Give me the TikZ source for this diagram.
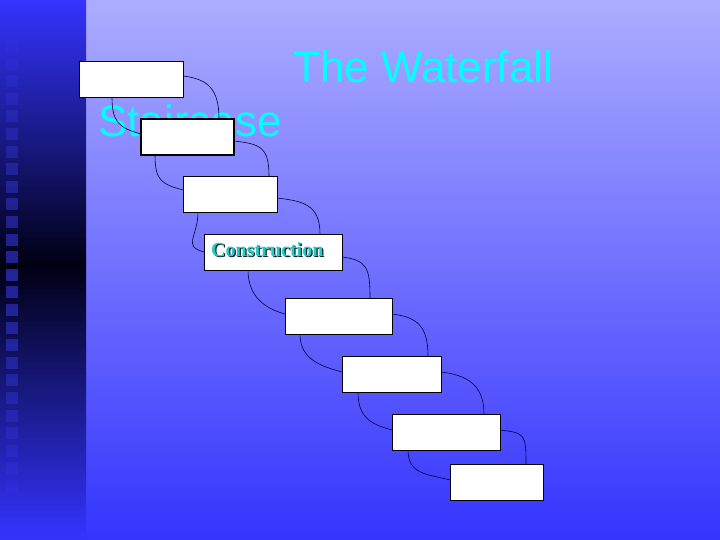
\documentclass[tikz,border=0pt]{standalone}
\usepackage{fontspec}
\setmainfont{Liberation Sans}
\newfontfamily\serifb{Liberation Serif}
\usetikzlibrary{calc}
\definecolor{titlecyan}{RGB}{0,255,255}
\begin{document}
\begin{tikzpicture}[x=1pt,y=-1pt,
  stepbox/.style={draw=black,fill=white,line width=0.8pt},
  conn/.style={draw=black!80!blue,line width=0.6pt}]
\useasboundingbox (0,0) rectangle (720,540);
\shade[top color={rgb,255:red,172;green,172;blue,255},bottom color={rgb,255:red,52;green,52;blue,255}] (86,0) rectangle (720,540);
\shade[top color={rgb,255:red,52;green,52;blue,255},bottom color={rgb,255:red,0;green,0;blue,20}] (0,0) rectangle (86,265);
\shade[top color={rgb,255:red,0;green,0;blue,20},bottom color={rgb,255:red,52;green,52;blue,255}] (0,265) rectangle (86,540);
\foreach \i in {0,...,25}{
  \pgfmathsetmacro{\op}{0.55-abs(\i-13)*0.035}
  \fill[blue!75!white,opacity=\op] (6,{40+\i*17.6}) rectangle (18,{52+\i*17.6});
}
\node[anchor=base west,text=titlecyan,font=\fontsize{44}{44}\selectfont,inner sep=0] (t1) at (293,83) {The Waterfall};
\node[anchor=base west,text=titlecyan,font=\fontsize{44}{44}\selectfont,inner sep=0] (t2) at (98,137) {Staircase};
% connectors
\coordinate (r1) at (183,76);  \coordinate (u2) at (219,119);
\coordinate (b1) at (112,97);  \coordinate (l2) at (141,134);
\coordinate (r2) at (234,141); \coordinate (u3) at (269,176);
\coordinate (b2) at (155,155); \coordinate (l3) at (183,190);
\coordinate (r3) at (277,198); \coordinate (u4) at (320,234);
\coordinate (b3) at (198,212); \coordinate (l4) at (204,252);
\coordinate (r4) at (342,257); \coordinate (u5) at (370,298);
\coordinate (b4) at (248,270); \coordinate (l5) at (285,314);
\coordinate (r5) at (392,314); \coordinate (u6) at (428,356);
\coordinate (b5) at (300,334); \coordinate (l6) at (342,372);
\coordinate (r6) at (441,372); \coordinate (u7) at (484,414);
\coordinate (b6) at (358,392); \coordinate (l7) at (392,430);
\coordinate (r7) at (500,430); \coordinate (u8) at (526,464);
\coordinate (b7) at (408,450); \coordinate (l8) at (450,480);
\foreach \a/\b in {1/2,2/3,3/4,4/5,5/6,6/7,7/8}{
  \draw[conn] (r\a) .. controls ($(r\a)+(25,3)$) and ($(u\b)+(0,-30)$) .. (u\b);
  \draw[conn] (b\a) .. controls ($(b\a)+(0,25)$) and ($(l\b)+(-22,-6)$) .. (l\b);
}
\node[stepbox,minimum width=104,minimum height=36,inner sep=0] (s1) at (131,79) {};
\node[stepbox,line width=2pt,minimum width=93,minimum height=36,inner sep=0] (s2) at (187.5,137) {};
\node[stepbox,minimum width=94,minimum height=36,inner sep=0] (s3) at (230,194) {};
\node[stepbox,minimum width=138,minimum height=36,inner sep=0] (s4) at (273,252) {};
\node[stepbox,minimum width=107,minimum height=36,inner sep=0] (s5) at (338.5,316) {};
\node[stepbox,minimum width=99,minimum height=36,inner sep=0] (s6) at (391.5,374) {};
\node[stepbox,minimum width=108,minimum height=36,inner sep=0] (s7) at (446,432) {};
\node[stepbox,minimum width=93,minimum height=36,inner sep=0] (s8) at (496.5,482) {};
\node[anchor=west,inner sep=0,font=\serifb\bfseries\fontsize{20}{20}\selectfont,text=black!70!teal] at (212.2,251) {Construction};
\node[anchor=west,inner sep=0,font=\serifb\bfseries\fontsize{20}{20}\selectfont,text={rgb,255:red,40;green,200;blue,200}] (ct) at (211,250) {Construction};
\end{tikzpicture}
\end{document}
